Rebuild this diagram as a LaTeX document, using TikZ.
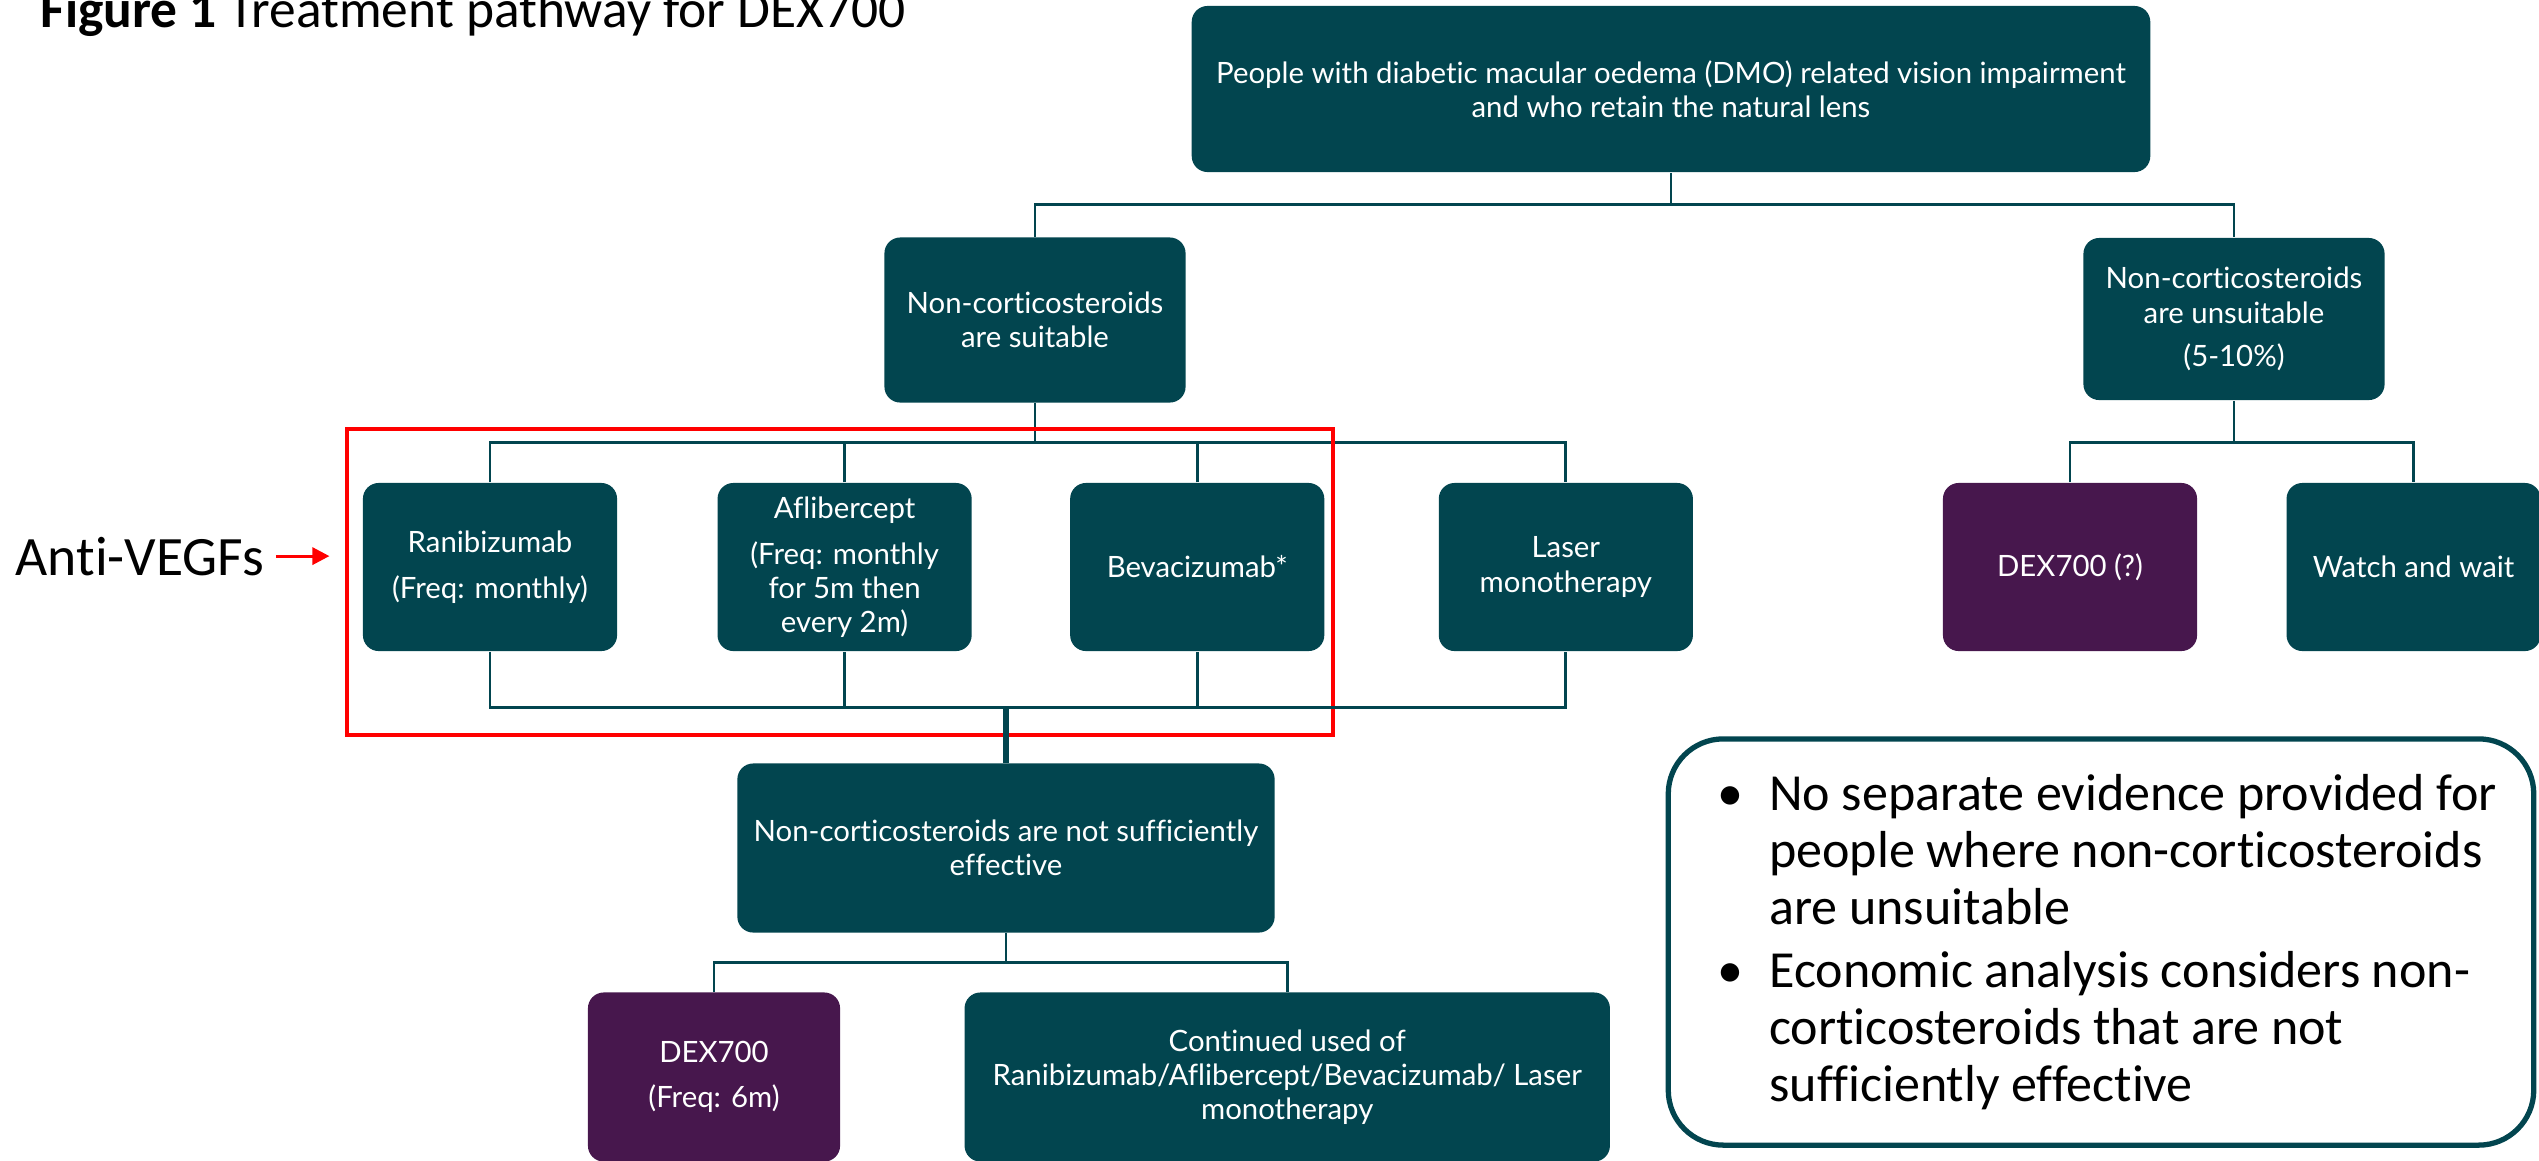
\documentclass[tikz,border=0pt]{standalone}
\usepackage{fontspec}
\setmainfont{Carlito}[Ligatures=NoCommon]
\newfontfamily\boxfont{Lato}[Ligatures=NoCommon]
\usetikzlibrary{arrows.meta,positioning}
\definecolor{pathteal}{HTML}{02454F}
\definecolor{dexpurple}{HTML}{47174D}
\newcommand{\notebullet}{\hspace*{3.15mm}\makebox[5.2mm][l]{\textbullet}}
\newcommand{\notespacing}{\spaceskip=0.22em\relax}
\tikzset{
  path node/.style={rounded corners=4.5pt,fill=pathteal,text=white,
    align=center,minimum width=2.54cm,minimum height=1.68cm,inner sep=2pt,
    font=\boxfont\fontsize{8.35}{9.7}\selectfont},
  dex node/.style={path node,fill=dexpurple},
  path line/.style={draw=pathteal,line width=0.8pt},
  anti box/.style={draw=red,line width=1pt,minimum width=9.85cm,
    minimum height=3.06cm,inner sep=0pt},
  anti arrow/.style={-{Triangle[length=1.7mm,width=1.7mm]},red,
    line width=0.9pt},
  label text/.style={font=\fontsize{15.2}{18}\selectfont,inner sep=0pt},
  note box/.style={draw=pathteal,line width=1.5pt,rounded corners=5.5mm,
    minimum width=8.65cm,minimum height=4.06cm,inner xsep=1.75mm,
    text width=8.3cm,align=left,font=\fontsize{14.8}{16.3}\selectfont},
}

\begin{document}
\begin{tikzpicture}[x=0.01cm,y=-0.01cm]
  \useasboundingbox (0,0) rectangle (2539,1160);
  \clip (0,0) rectangle (2539,1160);

  \node[label text,anchor=base west] (title) at (40,27)
    {\textbf{Figure 1} Treatment pathway for DEX700};

  % Population and the split on suitability of non-corticosteroids.
  \node[path node,minimum width=9.58cm,minimum height=1.66cm] (top)
    at (1671,89) {People with diabetic macular oedema (DMO) related vision
    impairment\\ and who retain the natural lens};
  \node[path node,minimum width=3.01cm,minimum height=1.65cm] (suit)
    at (1035,320) {Non-corticosteroids\\ are suitable};
  \node[path node,minimum width=3.01cm,minimum height=1.62cm] (unsuit)
    at (2234,319) {Non-corticosteroids\\ are unsuitable\\[2.6pt] (5-10\%)};
  \draw[path line] (top.south) -- ++(0,32) coordinate (topfork);
  \draw[path line] (suit.north) |- (topfork) -| (unsuit.north);

  % First-line options.
  \node[path node] (rani) at (490,567) {Ranibizumab\\[3.3pt] (Freq: monthly)};
  \node[path node,right=0.99cm of rani] (afli)
    {Aflibercept\\[3.3pt] (Freq: monthly\\ for 5m then\\ every 2m)};
  \node[path node,right=0.97cm of afli] (beva) {Bevacizumab*};
  \node[path node,right=1.13cm of beva] (laser) {Laser\\ monotherapy};
  \node[dex node] (dexq) at (2070,567) {DEX700 (?)};
  \node[path node,right=0.88cm of dexq] (watch) {Watch and wait};

  \draw[path line] (suit.south) -- ++(0,39) coordinate (suitfork);
  \draw[path line] (rani.north) |- (suitfork) -| (laser.north);
  \draw[path line] (afli.north) -- (afli.north |- suitfork);
  \draw[path line] (beva.north) -- (beva.north |- suitfork);
  \draw[path line] (unsuit.south) -- ++(0,42) coordinate (unsuitfork);
  \draw[path line] (dexq.north) |- (unsuitfork) -| (watch.north);

  \node[anti box] (antibox) at (840,582) {};
  \node[label text,font=\fontsize{15.8}{18}\selectfont,anchor=base west]
    (antivegf) at (15,575) {Anti-VEGFs};
  \draw[anti arrow,shorten <=1.1mm,shorten >=1.6mm]
    (antivegf.east) -- (antibox.west |- antivegf.east);

  % Second line after the first-line options fail.
  \node[path node,minimum width=5.37cm,minimum height=1.69cm] (notsuff)
    at (1006,848) {Non-corticosteroids are not sufficiently\\ effective};
  \draw[path line] (rani.south) -- ++(0,56) coordinate (ranijoin)
    -| (laser.south);
  \draw[path line] (afli.south) -- (afli.south |- ranijoin);
  \draw[path line] (beva.south) -- (beva.south |- ranijoin);
  \draw[path line,line width=1.6pt] (notsuff.north) -- (notsuff.north |- ranijoin);

  \node[dex node,minimum width=2.52cm,minimum height=1.69cm] (dexsix)
    at (714,1077) {DEX700\\[3.3pt] (Freq: 6m)};
  \node[path node,minimum width=6.45cm,minimum height=1.69cm,
    right=1.23cm of dexsix] (cont) {Continued used of\\
    Ranibizumab/Aflibercept/Bevacizumab/ Laser\\ monotherapy};
  \draw[path line] (notsuff.south) -- ++(0,29) coordinate (notsufffork);
  \draw[path line] (dexsix.north) |- (notsufffork) -| (cont.north);

  \node[note box] (note) at (2101,942)
    {\notespacing
    \hangindent=8.35mm\hangafter=1\notebullet No separate evidence provided
    for\newline people where non-corticosteroids\newline are unsuitable\par
    \vspace{1.4pt}
    \hangindent=8.35mm\hangafter=1\notebullet Economic analysis considers
    non-\newline corticosteroids that are not\newline sufficiently
    effective\par};
\end{tikzpicture}
\end{document}
